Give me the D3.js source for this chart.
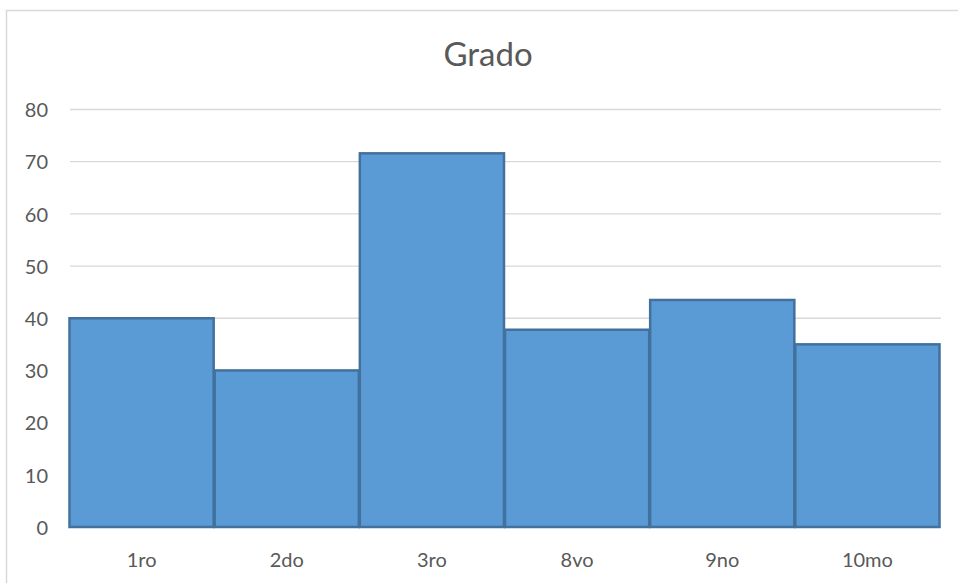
<!DOCTYPE html>
<html>
<head>
<meta charset="utf-8">
<script src="https://cdn.jsdelivr.net/npm/d3@7"></script>
<style>
  html, body { margin: 0; padding: 0; background: #fff; }
  svg { display: block; font-family: Lato, "Open Sans", sans-serif; }
</style>
</head>
<body>
<svg id="chart" width="958" height="583"></svg>
<script>
// chart data
const categories = ['1ro', '2do', '3ro', '8vo', '9no', '10mo']
const values = [40, 30, 71.6, 37.8, 43.5, 35]
const yTicks = [0, 10, 20, 30, 40, 50, 60, 70, 80]
const title = 'Grado'

const margin = {top: 109.5, right: 19, bottom: 56, left: 69}
const width = 958, height = 583

const svg = d3.select('#chart')

// outer chart border (only left and top visible)
svg.append('rect')
  .attr('x', 6.5).attr('y', 10.5)
  .attr('width', 1000).attr('height', 1000)
  .attr('fill', 'none')
  .attr('stroke', '#d9d9d9')
  .attr('stroke-width', 1.5)

const x = d3.scaleBand()
  .domain(categories)
  .range([margin.left, width - margin.right + 1])
  .padding(0)

const y = d3.scaleLinear()
  .domain([0, 80])
  .range([height - margin.bottom, margin.top])

// gridlines
svg.append('g')
  .selectAll('line')
  .data(yTicks)
  .join('line')
  .attr('x1', margin.left + 1)
  .attr('x2', width - margin.right + 2)
  .attr('y1', d => y(d))
  .attr('y2', d => y(d))
  .attr('stroke', '#d9d9d9')
  .attr('stroke-width', 1.3)

// y labels
const yAxis = d3.axisLeft(y).tickValues(yTicks).tickSize(0).tickPadding(0)
const gy = svg.append('g')
  .attr('transform', 'translate(' + 48 + ',0)')
  .call(yAxis)
gy.select('.domain').remove()
gy.selectAll('text')
  .attr('font-family', 'Lato, sans-serif')
  .attr('font-size', 20)
  .attr('fill', '#595959')
  .attr('dy', '0.36em')

// bars
svg.append('g')
  .selectAll('rect')
  .data(values)
  .join('rect')
  .attr('x', (d, i) => x(categories[i]) + 0.5)
  .attr('y', d => y(d))
  .attr('width', x.bandwidth() - 1)
  .attr('height', d => y(0) - y(d))
  .attr('fill', '#5b9bd5')
  .attr('stroke', '#41719c')
  .attr('stroke-width', 2.5)

// x labels
const xAxis = d3.axisBottom(x).tickSize(0).tickPadding(0)
const gx = svg.append('g')
  .attr('transform', 'translate(0,' + 566.5 + ')')
  .call(xAxis)
gx.select('.domain').remove()
gx.selectAll('text')
  .attr('font-family', 'Lato, sans-serif')
  .attr('font-size', 20)
  .attr('fill', '#595959')
  .attr('dy', 0)

// title
svg.append('text')
  .attr('x', 488)
  .attr('y', 65.5)
  .attr('text-anchor', 'middle')
  .attr('font-size', 33)
  .attr('fill', '#595959')
  .text(title)
</script>
</body>
</html>
